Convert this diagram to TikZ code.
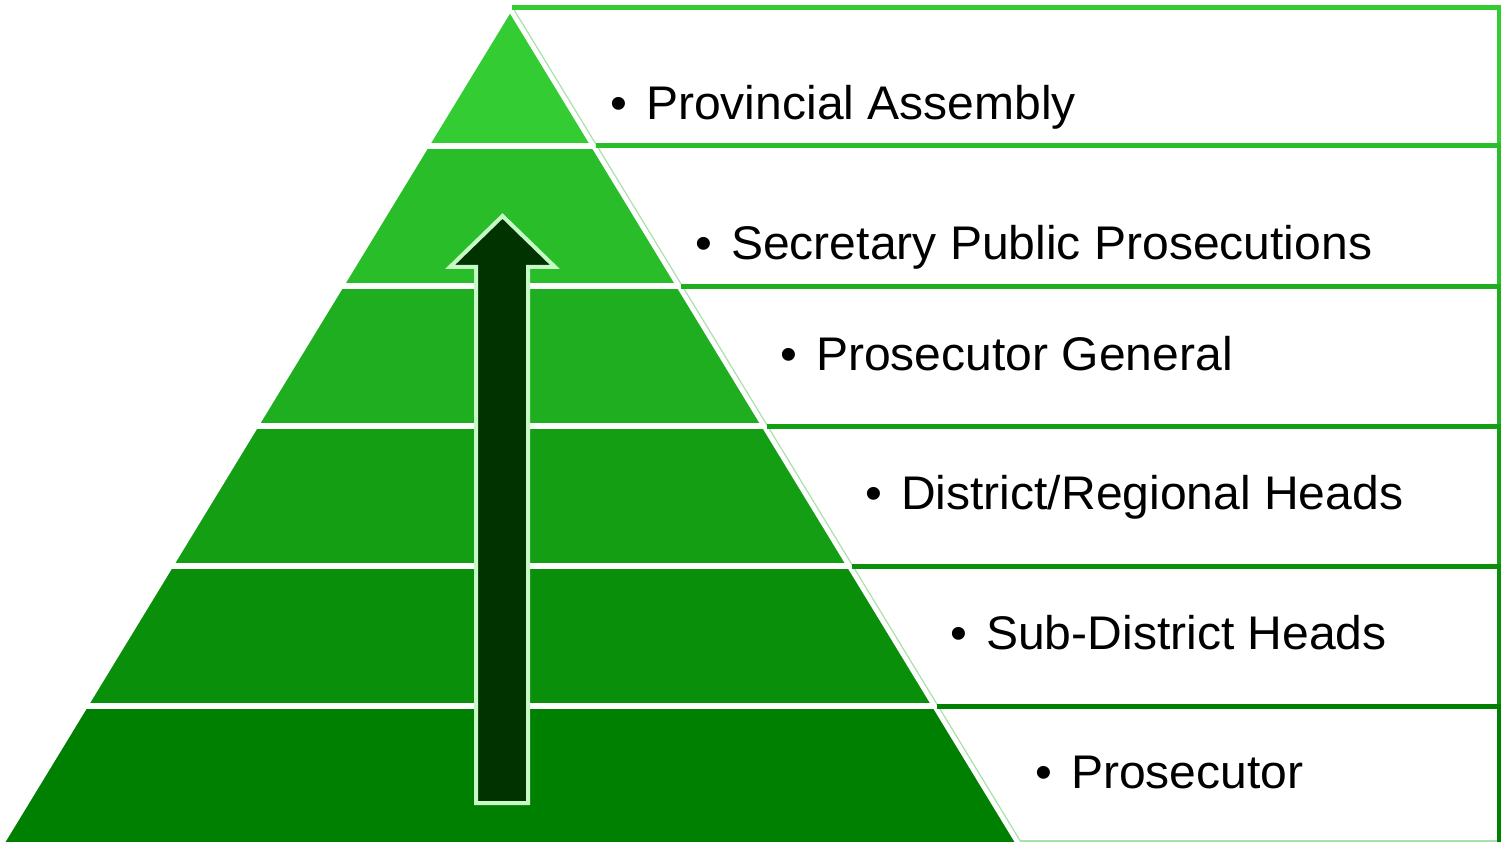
\documentclass[tikz,border=0pt]{standalone}
\usepackage{fontspec}
\setmainfont{Liberation Sans}
\newfontfamily\lblfont[FakeStretch=1.018]{Liberation Sans}
\definecolor{lvA}{RGB}{51,204,51}
\definecolor{lvB}{RGB}{41,189,41}
\definecolor{lvC}{RGB}{31,174,31}
\definecolor{lvD}{RGB}{20,158,20}
\definecolor{lvE}{RGB}{10,143,10}
\definecolor{lvF}{RGB}{0,128,0}
\definecolor{boxthin}{RGB}{170,225,170}
\definecolor{arrowfill}{RGB}{0,51,0}
\definecolor{arrowline}{RGB}{200,250,200}
\begin{document}
\begin{tikzpicture}[x=1pt,y=-1pt,
  layer/.style={draw=white, line width=5.7pt, line join=miter},
  thinedge/.style={draw=boxthin, line width=1.2pt},
  boxedge/.style={line width=5pt, line join=miter},
  lbl/.style={anchor=base west, inner sep=0pt, font=\lblfont\fontsize{47.2}{56}\selectfont, text=black}]
\useasboundingbox (0,0) rectangle (1501,842);
\fill[white] (0,0) rectangle (1501,842);
% pyramid
\path[layer, fill=lvA] (510,8) -- ({510+0.609*138},146) -- ({510-0.609*138},146) -- cycle;
\foreach \t/\b/\c in {146/286/lvB, 286/426/lvC, 426/566/lvD, 566/706/lvE, 706/846/lvF}{
  \path[layer, fill=\c] ({510-0.609*(\t-8)},\t) -- ({510+0.609*(\t-8)},\t)
     -- ({510+0.609*(\b-8)},\b) -- ({510-0.609*(\b-8)},\b) -- cycle;
}
% boxes on the right
\foreach \t/\b/\c in {8/146/lvA, 146/286/lvB, 286/426/lvC, 426/566/lvD, 566/706/lvE, 706/846/lvF}{
  \draw[thinedge] ({510+0.609*(\t-8)+3},\t) -- ({510+0.609*(\b-8)+3},\b);
  \draw[boxedge, draw=\c] ({510+0.609*(\t-8)+2},\t) -- (1499,\t) -- (1499,\b);
}
\draw[thinedge] ({510+0.609*833+3},841) -- (1497,841);
% arrow
\path[fill=arrowfill, draw=arrowline, line width=4pt, line join=miter]
  (502.5,216) -- (555,267) -- (528,267) -- (528,803) -- (476,803) -- (476,267) -- (450,267) -- cycle;
% labels
\node[lbl] (l1) at (610,120) {\makebox[36pt][l]{\textbullet}Provincial Assembly};
\node[lbl] (l2) at (695,259) {\makebox[36pt][l]{\textbullet}Secretary Public Prosecutions};
\node[lbl] (l3) at (780,370) {\makebox[36pt][l]{\textbullet}Prosecutor General};
\node[lbl] (l4) at (865,509) {\makebox[36pt][l]{\textbullet}District/Regional Heads};
\node[lbl] (l5) at (950,649) {\makebox[36pt][l]{\textbullet}Sub-District Heads};
\node[lbl] (l6) at (1035,788) {\makebox[36pt][l]{\textbullet}Prosecutor};
\end{tikzpicture}
\end{document}
